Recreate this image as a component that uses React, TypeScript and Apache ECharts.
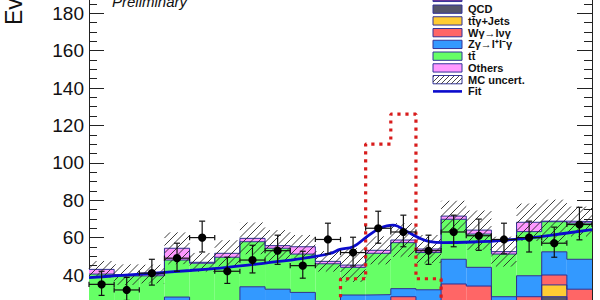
import React, { useEffect, useRef } from "react";
import * as echarts from "echarts";

// ---------- data (bin index 0..19) ----------
const binLabels = ["1","2","3","4","5","6","7","8","9","10","11","12","13","14","15","16","17","18","19","20"];
const qcd     = [1, 1, 1, 1, 1, 1, 1, 1, 1, 1, 1, 1, 1, 1, 1, 1, 1, 1, 28.4, 1];
const ttgJets = [1, 1, 1, 2, 1, 1, 2, 2, 2, 1, 2, 2, 3, 2, 3, 3, 2, 3, 6.3, 2];
const wgamma  = [6, 6, 6, 7, 8, 8, 9, 9, 9, 8, 9, 11, 24.4, 12, 31.2, 30.1, 11, 24.4, 5.3, 29.4];
const zgamma  = [12, 14, 14, 18.2, 14, 15, 21.7, 20.4, 18.7, 15, 17.3, 15.5, 4.3, 17.1, 13.2, 10, 14.4, 11.2, 12.4, 16];
const ttbar   = [20.5, 17.5, 17.6, 19.8, 22.3, 24.5, 24.1, 21.9, 20.5, 21, 14.8, 22.1, 24.6, 19.9, 21.4, 17.8, 22.8, 23.6, 16.1, 19.4];
const others  = [2.5, 0.7, 0.9, 6.3, 0.5, 2.1, 1.8, 1.4, 3.9, 1.3, 1.2, 1.6, 1.4, 1.9, 1.7, 2.1, 1.3, 5, 0.3, 0.8];
const mcUncert = [4.5, 5.5, 5, 8.5, 5, 7, 8.5, 8.3, 6.3, 5.5, 9, 7.5, 9, 7.5, 8.2, 10.5, 8, 10, 11.5, 8];

const dataCounts = [35, 32, 41, 49, 60, 42, 48, 53, 45, 59, 52, 65, 63, 53, 63, 61, 59, 60, 57, 67];
const dataErrUp  = [7, 6.7, 7.4, 8, 8.8, 7.5, 7.9, 8.3, 7.7, 8.7, 8.2, 9.1, 9, 8.3, 9, 8.9, 8.7, 8.8, 8.6, 9.2];
const dataErrDn  = [5.9, 5.6, 6.4, 7, 7.7, 6.5, 6.9, 7.3, 6.7, 7.7, 7.2, 8, 7.9, 7.3, 7.9, 7.8, 7.7, 7.7, 7.5, 8.2];

const signal = [0, 0, 0, 0, 0, 0, 0, 0, 0, 0, 38, 110, 126, 38, 0, 0, 0, 0, 0, 0];

const fitX = [0, 0.99, 2.5, 4.02, 5.49, 7.0, 8.51, 9.58, 9.98, 10.5, 11.05, 11.57, 12.09, 12.64, 13.16, 13.56, 14.08, 15.55, 16.34, 17.53, 18.33, 20];
const fitY = [38.6, 39.5, 40.9, 42.4, 44.1, 46.4, 48.9, 51.5, 53.7, 55.1, 60.5, 65, 66.7, 63.2, 59.6, 57.8, 57.3, 57.8, 58.4, 59.9, 61.2, 64.3];

const yMin = 0;
const yMax = 200;
const yInterval = 20;
const yLabelsShown = [40, 60, 80, 100, 120, 140, 160, 180];

const legendLabels = ["", "QCD", "tt̄γ+Jets", "Wγ→lνγ", "Zγ→l⁺l⁻γ", "tt̄", "Others", "MC uncert.", "Fit"];

// ---------- styles ----------
const FONT = "'Liberation Sans', Arial, Helvetica, sans-serif";
const COLORS = {
  top: "#663399",
  qcd: "#55556a",
  ttg: "#ffcc33",
  wg: "#ff6666",
  zg: "#3399ff",
  tt: "#66ff66",
  oth: "#ff99ff",
};
const OUTLINE = "#2e2e90";
const OFF = 40; // chart div is shifted up by this many px

export default function App() {
  const ref = useRef<HTMLDivElement | null>(null);

  useEffect(() => {
    if (!ref.current) return;
    const chart = echarts.init(ref.current, null, { renderer: "svg" });

    const layers = [
      { name: "QCD", vals: qcd, color: COLORS.qcd },
      { name: "tt̄γ+Jets", vals: ttgJets, color: COLORS.ttg },
      { name: "Wγ→lνγ", vals: wgamma, color: COLORS.wg },
      { name: "Zγ→l⁺l⁻γ", vals: zgamma, color: COLORS.zg },
      { name: "tt̄", vals: ttbar, color: COLORS.tt },
      { name: "Others", vals: others, color: COLORS.oth },
    ];

    // cumulative tops for outlines
    const cums: number[][] = [];
    let run = binLabels.map(() => 0);
    layers.forEach((l) => {
      run = run.map((v, i) => v + l.vals[i]);
      cums.push(run.slice());
    });
    const total = cums[cums.length - 1];
    const stepData = (arr: number[]) => {
      const d: number[][] = arr.map((v, i) => [i, v]);
      d.push([arr.length, arr[arr.length - 1]]);
      return d;
    };

    const barSeries = layers.map((l) => ({
      type: "bar",
      name: l.name,
      stack: "mc",
      xAxisIndex: 1,
      yAxisIndex: 0,
      barWidth: "100%",
      barCategoryGap: "0%",
      data: l.vals,
      itemStyle: { color: l.color },
      silent: true,
      z: 2,
    }));

    const outlineSeries = cums.map((c) => ({
      type: "line",
      xAxisIndex: 0,
      yAxisIndex: 0,
      step: "end",
      data: stepData(c),
      symbol: "none",
      lineStyle: { color: OUTLINE, width: 1 },
      silent: true,
      z: 3,
    }));

    const hatchLines = (x0: number, y0: number, x1: number, y1: number, d: number, stroke: string, lw: number) => {
      const out: any[] = [];
      const kStart = Math.ceil((x0 + y0) / d);
      const kEnd = Math.floor((x1 + y1) / d);
      for (let k = kStart; k <= kEnd; k++) {
        const c = k * d;
        const xa = Math.max(x0, c - y1);
        const xb = Math.min(x1, c - y0);
        if (xb > xa) {
          out.push({
            type: "line",
            shape: { x1: xa, y1: c - xa, x2: xb, y2: c - xb },
            style: { stroke, lineWidth: lw },
          });
        }
      }
      return out;
    };

    const hatchSeries = {
      type: "custom",
      xAxisIndex: 0,
      yAxisIndex: 0,
      data: total.map((m, i) => [i, m, mcUncert[i]]),
      encode: { x: 0, y: 1 },
      silent: true,
      z: 4,
      renderItem: (params: any, api: any) => {
        const i = api.value(0);
        const m = api.value(1);
        const u = api.value(2);
        const p0 = api.coord([i, m + u]);
        const p1 = api.coord([i + 1, m - u]);
        return {
          type: "group",
          children: hatchLines(p0[0], p0[1], p1[0], p1[1], 7.5, "#262626", 0.9),
        };
      },
    };

    const signalSeries = {
      type: "line",
      xAxisIndex: 0,
      yAxisIndex: 0,
      step: "end",
      data: stepData(signal),
      symbol: "none",
      lineStyle: { color: "#d81c1c", width: 3.2, type: [3.2, 4.8], cap: "butt" },
      silent: true,
      z: 5,
    };

    const fitSeries = {
      type: "line",
      name: "Fit",
      xAxisIndex: 0,
      yAxisIndex: 0,
      data: fitX.map((x, i) => [x, fitY[i]]),
      smooth: 0.4,
      symbol: "none",
      lineStyle: { color: "#0b0bcc", width: 2.8 },
      silent: true,
      z: 6,
    };

    const dataSeries = {
      type: "custom",
      name: "Data",
      xAxisIndex: 0,
      yAxisIndex: 0,
      data: dataCounts.map((v, i) => [i, v, dataErrUp[i], dataErrDn[i]]),
      encode: { x: 0, y: 1 },
      silent: true,
      z: 7,
      renderItem: (params: any, api: any) => {
        const i = api.value(0);
        const v = api.value(1);
        const up = api.value(2);
        const dn = api.value(3);
        const c = api.coord([i + 0.5, v]);
        const l = api.coord([i, v]);
        const r = api.coord([i + 1, v]);
        const t = api.coord([i + 0.5, v + up]);
        const b = api.coord([i + 0.5, v - dn]);
        const st = { stroke: "#111", lineWidth: 1.2 };
        return {
          type: "group",
          children: [
            { type: "line", shape: { x1: l[0], y1: l[1], x2: r[0], y2: r[1] }, style: st },
            { type: "line", shape: { x1: t[0], y1: t[1], x2: b[0], y2: b[1] }, style: st },
            { type: "line", shape: { x1: l[0], y1: l[1] - 2.6, x2: l[0], y2: l[1] + 2.6 }, style: st },
            { type: "line", shape: { x1: r[0], y1: r[1] - 2.6, x2: r[0], y2: r[1] + 2.6 }, style: st },
            { type: "line", shape: { x1: t[0] - 3, y1: t[1], x2: t[0] + 3, y2: t[1] }, style: st },
            { type: "line", shape: { x1: b[0] - 3, y1: b[1], x2: b[0] + 3, y2: b[1] }, style: st },
            { type: "circle", shape: { cx: c[0], cy: c[1], r: 4.1 }, style: { fill: "#000" } },
          ],
        };
      },
    };

    // ---------- graphic: legend, labels ----------
    const legendColors = [COLORS.top, COLORS.qcd, COLORS.ttg, COLORS.wg, COLORS.zg, COLORS.tt, COLORS.oth];
    const rowY0 = -2.6;
    const rowStep = 11.75;
    const boxX = 433;
    const boxW = 29;
    const boxH = 8.3;
    const graphics: any[] = [];
    legendLabels.forEach((label, idx) => {
      const cy = rowY0 + idx * rowStep + OFF;
      if (idx < legendColors.length) {
        graphics.push({
          type: "rect",
          shape: { x: boxX, y: cy - boxH / 2, width: boxW, height: boxH },
          style: { fill: legendColors[idx], stroke: "#333399", lineWidth: 1 },
          z: 100,
        });
      } else if (label === "MC uncert.") {
        graphics.push({
          type: "rect",
          shape: { x: boxX, y: cy - boxH / 2, width: boxW, height: boxH },
          style: { fill: "#fff", stroke: "#333399", lineWidth: 1 },
          z: 100,
        });
        hatchLines(boxX, cy - boxH / 2, boxX + boxW, cy + boxH / 2, 5, "#333", 0.9).forEach((h) => {
          h.z = 101;
          graphics.push(h);
        });
      } else if (label === "Fit") {
        graphics.push({
          type: "line",
          shape: { x1: boxX, y1: cy, x2: boxX + boxW, y2: cy },
          style: { stroke: "#0b0bcc", lineWidth: 2.6 },
          z: 100,
        });
      }
      if (label) {
        graphics.push({
          type: "text",
          x: 468,
          y: cy,
          style: {
            text: label,
            font: `bold 11px ${FONT}`,
            fill: "#111",
            textAlign: "left",
            textVerticalAlign: "middle",
            verticalAlign: "middle",
          },
          z: 100,
        });
      }
    });

    graphics.push({
      type: "text",
      x: 112,
      y: 9 + OFF,
      style: {
        text: "Preliminary",
        font: `italic 15px ${FONT}`,
        fill: "#111",
        textAlign: "left",
        verticalAlign: "bottom",
        textVerticalAlign: "bottom",
      },
      z: 100,
    });

    graphics.push({
      type: "text",
      x: 25,
      y: 25 + OFF,
      rotation: Math.PI / 2,
      style: {
        text: "Events",
        font: `23px ${FONT}`,
        fill: "#111",
        textAlign: "left",
        verticalAlign: "bottom",
        textVerticalAlign: "bottom",
      },
      z: 100,
    });

    const yAxisCommon = {
      type: "value",
      min: yMin,
      max: yMax,
      interval: yInterval,
      splitLine: { show: false },
      axisLine: { show: true, lineStyle: { color: "#222", width: 1 } },
      axisTick: { show: true, inside: true, length: 15, lineStyle: { color: "#222", width: 1 } },
      minorTick: { show: true, splitNumber: 4, length: 8, lineStyle: { color: "#222", width: 1 } },
      minorSplitLine: { show: false },
    };

    chart.setOption({
      animation: false,
      backgroundColor: "#fff",
      grid: { left: 89, right: 8, top: 15.8, bottom: 10.2, containLabel: false },
      xAxis: [
        {
          type: "value",
          min: 0,
          max: 20,
          show: false,
        },
        {
          type: "category",
          data: binLabels,
          boundaryGap: true,
          show: false,
        },
      ],
      yAxis: [
        {
          ...yAxisCommon,
          position: "left",
          axisLabel: {
            show: true,
            margin: 5,
            fontSize: 19,
            fontFamily: FONT,
            color: "#111",
            formatter: (v: number) => (yLabelsShown.indexOf(v) >= 0 ? String(v) : ""),
          },
        },
        {
          ...yAxisCommon,
          position: "right",
          axisLabel: { show: false },
        },
      ],
      series: [...barSeries, ...outlineSeries, hatchSeries, signalSeries, fitSeries, dataSeries],
      graphic: { elements: graphics },
    } as any);

    return () => {
      chart.dispose();
    };
  }, []);

  return (
    <div
      style={{
        position: "fixed",
        left: 0,
        top: 0,
        width: 600,
        height: 300,
        overflow: "hidden",
        background: "#fff",
      }}
    >
      <div ref={ref} style={{ position: "absolute", left: 0, top: -OFF, width: 600, height: 400 }} />
    </div>
  );
}
